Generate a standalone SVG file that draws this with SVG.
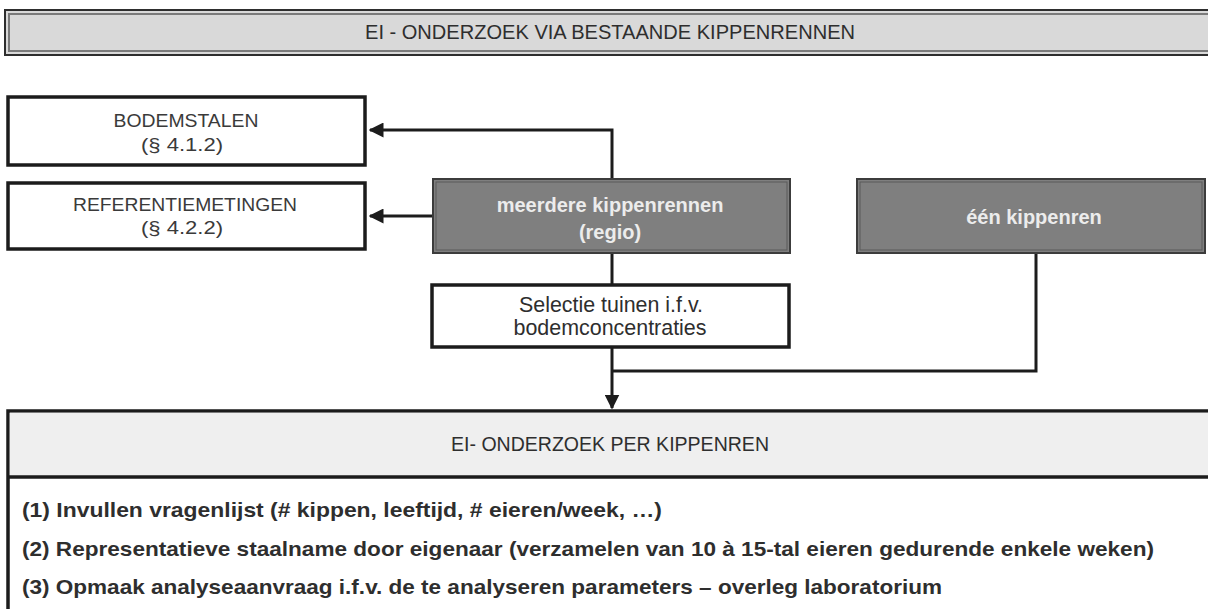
<svg xmlns="http://www.w3.org/2000/svg" width="1208" height="609" viewBox="0 0 1208 609">
<defs>
<style>
.narrow{font-family:"Liberation Sans",Arial,sans-serif;fill:#2e2e2e}
.reg{font-family:"Liberation Sans",Arial,sans-serif;fill:#3a3a3a;font-size:19px}
.bw{font-family:"Liberation Sans",Arial,sans-serif;fill:#ececec;font-size:20px;font-weight:bold}
.wbox{fill:#fff;stroke:#1c1c1c;stroke-width:3.5}
.gbox{fill:#7f7f7f;stroke:#3c3c3c;stroke-width:2}
.gin{fill:none;stroke:#5a5a5a;stroke-width:1}
.conn{fill:none;stroke:#1c1c1c;stroke-width:3}
</style>
<marker id="ah" viewBox="0 0 10 10" refX="9" refY="5" markerWidth="5" markerHeight="5" orient="auto" markerUnits="strokeWidth">
<path d="M0,0 L10,5 L0,10 z" fill="#1c1c1c"/>
</marker>
</defs>
<rect width="1208" height="609" fill="#ffffff"/>

<g id="title">
<rect x="5" y="10" width="1210" height="45" fill="#d9d9d9" stroke="#2e2e2e" stroke-width="2"/>
<rect x="9" y="14" width="1205" height="37" fill="none" stroke="#7a7a7a" stroke-width="2"/>
<text class="narrow" x="610" y="39" font-size="20" text-anchor="middle" textLength="490" lengthAdjust="spacingAndGlyphs">EI - ONDERZOEK  VIA BESTAANDE  KIPPENRENNEN</text>
</g>

<g id="connectors">
<polyline class="conn" points="612,180 612,130 370,130" marker-end="url(#ah)"/>
<line class="conn" x1="433" y1="216" x2="370" y2="216" marker-end="url(#ah)"/>
<line class="conn" x1="612" y1="253" x2="612" y2="285"/>
<polyline class="conn" points="1036,253 1036,371 612,371"/>
<line class="conn" x1="612" y1="347" x2="612" y2="408" marker-end="url(#ah)"/>
</g>

<g id="bodemstalen">
<rect class="wbox" x="8" y="97" width="357" height="68"/>
<text class="reg" x="186" y="127" text-anchor="middle" textLength="145" lengthAdjust="spacingAndGlyphs">BODEMSTALEN</text>
<text class="reg" x="182" y="151" text-anchor="middle" textLength="82" lengthAdjust="spacingAndGlyphs">(§ 4.1.2)</text>
</g>

<g id="referentiemetingen">
<rect class="wbox" x="8" y="183" width="357" height="66"/>
<text class="reg" x="185" y="211" text-anchor="middle" textLength="224" lengthAdjust="spacingAndGlyphs">REFERENTIEMETINGEN</text>
<text class="reg" x="182" y="234" text-anchor="middle" textLength="82" lengthAdjust="spacingAndGlyphs">(§ 4.2.2)</text>
</g>

<g id="meerdere">
<rect class="gbox" x="433" y="179" width="357" height="74"/>
<rect class="gin" x="436" y="182" width="351" height="68"/>
<text class="bw" x="610" y="212" text-anchor="middle">meerdere kippenrennen</text>
<text class="bw" x="610" y="239" text-anchor="middle">(regio)</text>
</g>

<g id="een">
<rect class="gbox" x="857" y="179" width="348" height="74"/>
<rect class="gin" x="860" y="182" width="342" height="68"/>
<text class="bw" x="1034" y="224" text-anchor="middle">één kippenren</text>
</g>

<g id="selectie">
<rect class="wbox" x="432" y="285" width="357" height="62"/>
<text class="narrow" x="611" y="312" font-size="22" text-anchor="middle" textLength="184" lengthAdjust="spacingAndGlyphs">Selectie tuinen i.f.v.</text>
<text class="narrow" x="610" y="335" font-size="22" text-anchor="middle" textLength="193" lengthAdjust="spacingAndGlyphs">bodemconcentraties</text>
</g>

<g id="onderzoek">
<rect x="8" y="411" width="1210" height="210" fill="#ffffff" stroke="#1c1c1c" stroke-width="3.5"/>
<rect x="9.75" y="412.75" width="1205" height="64" fill="#efefef"/>
<line x1="8" y1="477" x2="1210" y2="477" stroke="#1c1c1c" stroke-width="3.5"/>
<text class="narrow" x="610" y="451" font-size="20" text-anchor="middle" textLength="318" lengthAdjust="spacingAndGlyphs">EI- ONDERZOEK  PER KIPPENREN</text>
<text class="narrow" x="22" y="517" font-size="21" font-weight="bold" textLength="640" lengthAdjust="spacingAndGlyphs">(1) Invullen vragenlijst (# kippen, leeftijd, # eieren/week, …)</text>
<text class="narrow" x="22" y="556" font-size="21" font-weight="bold" textLength="1132" lengthAdjust="spacingAndGlyphs">(2) Representatieve staalname door eigenaar (verzamelen van 10 à 15-tal eieren gedurende enkele weken)</text>
<text class="narrow" x="22" y="594" font-size="21" font-weight="bold" textLength="920" lengthAdjust="spacingAndGlyphs">(3) Opmaak analyseaanvraag i.f.v. de te analyseren parameters – overleg laboratorium</text>
</g>
</svg>
